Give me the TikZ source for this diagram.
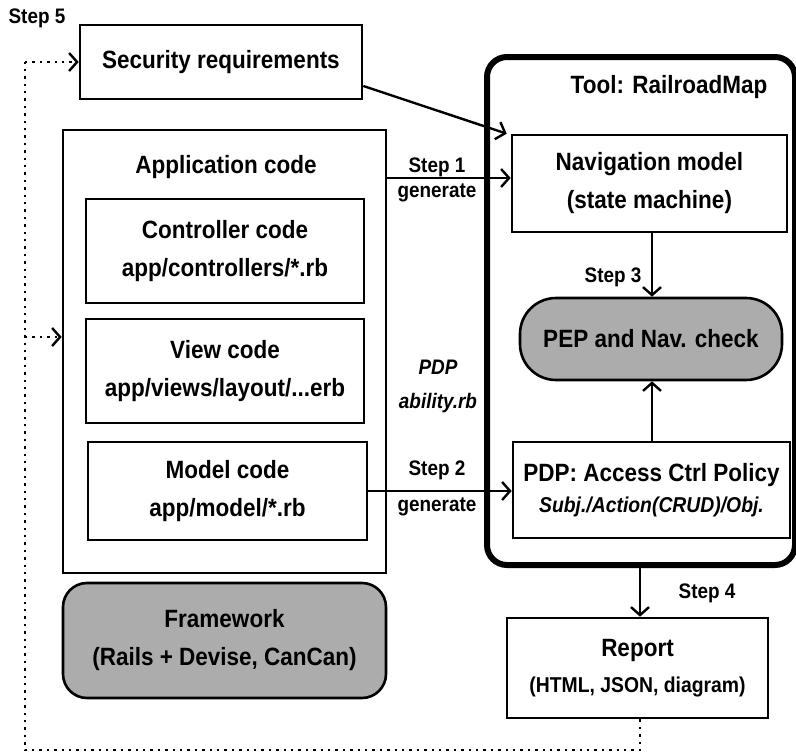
\documentclass[tikz,border=0pt]{standalone}
\usepackage{fontspec}
\setmainfont[FakeStretch=0.9]{Liberation Sans}
\usetikzlibrary{arrows.meta,calc}

\begin{document}
\begin{tikzpicture}[x=1pt,y=-1pt,
    box/.style={draw,line width=2.6pt,fill=white,inner sep=0pt,align=center,
      font=\bfseries\fontsize{25}{38}\selectfont},
    greybox/.style={box,fill=gray!65,rounded corners=24pt},
    lbl/.style={inner sep=0pt,font=\bfseries\fontsize{21}{24}\selectfont},
    arr/.style={line width=2.4pt,-{Straight Barb[length=8pt,width=18pt]}},
    dots/.style={line width=2.4pt,dash pattern=on 2.4pt off 5pt}]
  \useasboundingbox (0,0) rectangle (796,755);

  % tool frame
  \node[draw,line width=6pt,rounded corners=20pt,minimum width=308pt,minimum height=508pt] (tool) at (641,311) {};
  \node[lbl,font=\bfseries\fontsize{25}{28}\selectfont] (tooltitle) at (669,87) {Tool: RailroadMap};

  % left column
  \node[box,minimum width=282pt,minimum height=74pt] (sec) at (221,62) {Security requirements};
  \node[box,minimum width=323pt,minimum height=443pt] (app) at (224.5,351.5) {};
  \node[lbl,font=\bfseries\fontsize{25}{28}\selectfont] (apptitle) at (226,167) {Application code};
  \node[box,minimum width=278pt,minimum height=104pt] (ctrl) at (225,251) {Controller code\\app/controllers/*.rb};
  \node[box,minimum width=278pt,minimum height=104pt] (view) at (225,371) {View code\\app/views/layout/...erb};
  \node[box,minimum width=279pt,minimum height=98pt] (model) at (227.5,491) {Model code\\app/model/*.rb};
  \node[greybox,minimum width=323pt,minimum height=115pt] (frame) at (224.5,640.5) {Framework\\(Rails + Devise, CanCan)};

  % right column
  \node[box,minimum width=275pt,minimum height=97pt] (nav) at (649.5,183.5) {Navigation model\\(state machine)};
  \node[greybox,rounded corners=36pt,minimum width=262pt,minimum height=82pt] (pep) at (651,339) {PEP and Nav. check};
  \node[box,minimum width=277pt,minimum height=96pt] (pdp) at (651.5,490)
    {PDP: Access Ctrl Policy\\[-7pt]{\itshape\fontsize{21.5}{24}\selectfont Subj./Action(CRUD)/Obj.}};
  \node[box,minimum width=261pt,minimum height=100pt] (report) at (637.5,668)
    {Report\\[-2pt]{\fontsize{21.5}{24}\selectfont (HTML, JSON, diagram)}};

  % labels
  \node[lbl] (s1) at (437,167) {Step 1};
  \node[lbl] (g1) at (437,193) {generate};
  \node[lbl] (s2) at (437,470) {Step 2};
  \node[lbl] (g2) at (437,507) {generate};
  \node[lbl,font=\bfseries\itshape\fontsize{21}{24}\selectfont] (pdpa) at (438,367) {PDP};
  \node[lbl,font=\bfseries\itshape\fontsize{21}{24}\selectfont] (pdpb) at (438,403) {ability.rb};
  \node[lbl] (s3) at (613,277) {Step 3};
  \node[lbl] (s4) at (707,593) {Step 4};
  \node[lbl] (s5) at (37,18) {Step 5};

  % arrows
  \draw[arr] ([yshift=-24pt]sec.east) -- ([xshift=-4pt]nav.north west);
  \draw[arr] (app.east |- 0,178) -- (nav.west |- 0,178);
  \draw[arr] (model.east) -- (pdp.west |- model.east);
  \draw[arr] (nav.south -| 652,0) -- (pep.north -| 652,0);
  \draw[arr] (pdp.north -| 652,0) -- (pep.south -| 652,0);
  \draw[arr] (tool.south -| 640,0) -- (report.north -| 640,0);

  % feedback loop
  \coordinate (dl) at (25,750);
  \coordinate (dt) at (25,62);
  \coordinate (dm) at (25,337);
  \draw[dots] (report.south -| 640,0) -- (dl -| 640,0) -- (dl) -- (dt);
  \draw[dots,-{Straight Barb[length=8pt,width=18pt]}] (dt) -- (sec.west);
  \draw[dots,-{Straight Barb[length=8pt,width=18pt]}] (dm) -- (app.west |- dm);
\end{tikzpicture}
\end{document}
